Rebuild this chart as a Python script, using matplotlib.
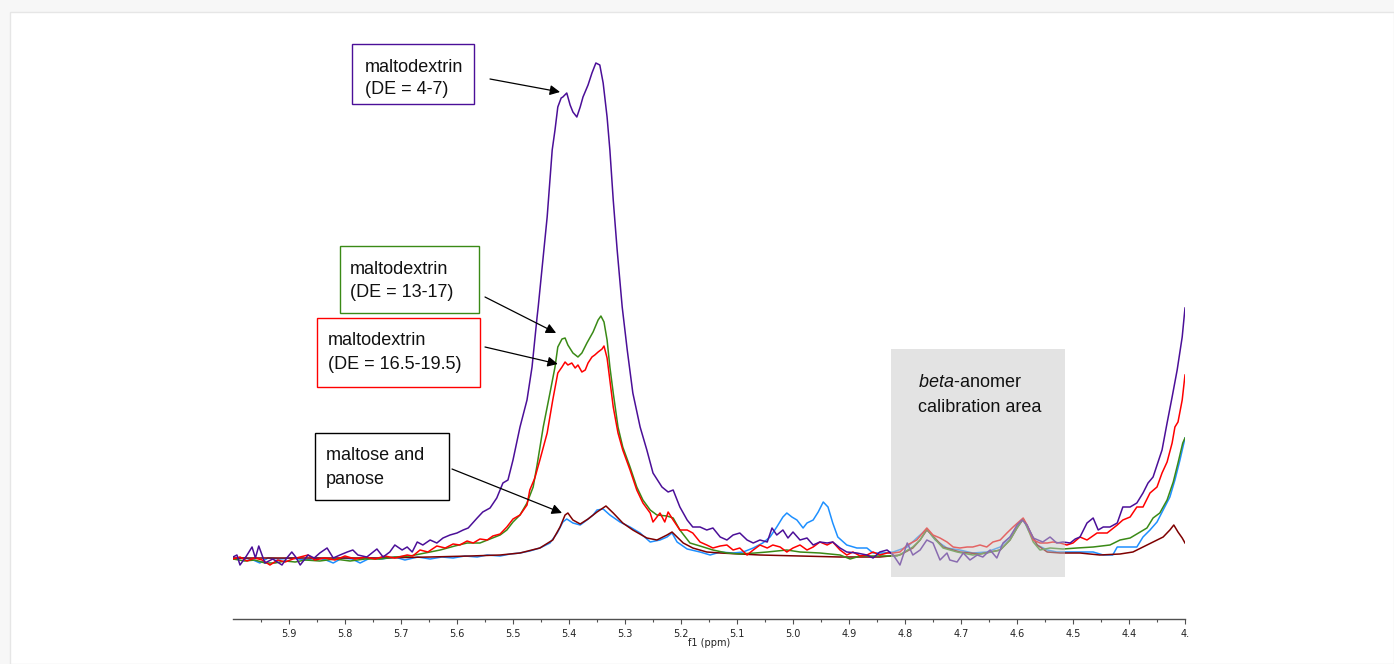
import matplotlib
matplotlib.use("Agg")
import matplotlib.pyplot as plt
from matplotlib.patches import Rectangle

# ---------------- data (ppm, intensity above baseline) ----------------
tick_values = [5.9, 5.8, 5.7, 5.6, 5.5, 5.4, 5.3, 5.2, 5.1, 5.0, 4.9, 4.8, 4.7, 4.6, 4.5, 4.4, 4.3]
tick_labels = ["5.9", "5.8", "5.7", "5.6", "5.5", "5.4", "5.3", "5.2", "5.1", "5.0",
               "4.9", "4.8", "4.7", "4.6", "4.5", "4.4", "4."]

purple_ppm = [6.000, 5.993, 5.9875, 5.976, 5.966, 5.960, 5.954, 5.943, 5.929, 5.9125, 5.904, 5.895,
              5.888, 5.880, 5.866, 5.855, 5.845, 5.832, 5.821, 5.809, 5.796, 5.786, 5.777, 5.761,
              5.743, 5.732, 5.720, 5.711, 5.698, 5.689, 5.680, 5.671, 5.661, 5.648, 5.636, 5.625,
              5.6125, 5.600, 5.589, 5.580, 5.564, 5.554, 5.541, 5.529, 5.518, 5.509, 5.500, 5.4875,
              5.475, 5.466, 5.457, 5.455, 5.439, 5.430, 5.425, 5.420, 5.414, 5.411, 5.404, 5.398,
              5.393, 5.386, 5.380, 5.375, 5.366, 5.359, 5.352, 5.345, 5.339, 5.332, 5.327, 5.321,
              5.314, 5.305, 5.296, 5.286, 5.273, 5.261, 5.250, 5.234, 5.223, 5.214, 5.202, 5.189,
              5.179, 5.166, 5.154, 5.143, 5.130, 5.118, 5.107, 5.095, 5.082, 5.071, 5.059, 5.046,
              5.0375, 5.029, 5.018, 5.009, 5.000, 4.9875, 4.975, 4.964, 4.952, 4.939, 4.929, 4.916,
              4.904, 4.886, 4.868, 4.857, 4.845, 4.832, 4.821, 4.809, 4.796, 4.786, 4.773, 4.761,
              4.750, 4.7375, 4.725, 4.720, 4.707, 4.696, 4.684, 4.671, 4.661, 4.648, 4.636, 4.625,
              4.6125, 4.600, 4.591, 4.582, 4.571, 4.554, 4.541, 4.529, 4.518, 4.505, 4.496, 4.4875,
              4.475, 4.464, 4.455, 4.446, 4.434, 4.421, 4.411, 4.398, 4.386, 4.375, 4.366, 4.357,
              4.348, 4.341, 4.332, 4.323, 4.314, 4.305, 4.300]
purple_int = [3, 5, -5, 4, 13, 2, 14, -3, 1, -5, 2, 8,
              3, -5, 5, 2, 7, 12, 2, 5, 8, 10, 5, 3,
              11, 3, 8, 15, 10, 13, 8, 18, 15, 20, 17, 22,
              25, 27, 30, 32, 42, 48, 52, 62, 77, 80, 100, 133,
              160, 193, 243, 253, 343, 410, 430, 453, 462, 463, 467, 455,
              448, 443, 453, 463, 475, 487, 497, 495, 477, 443, 410, 360,
              310, 253, 210, 167, 133, 110, 87, 73, 68, 70, 53, 40,
              33, 33, 30, 32, 23, 20, 25, 27, 20, 17, 20, 18,
              32, 25, 30, 22, 28, 20, 22, 15, 18, 17, 18, 12,
              8, 7, 5, 2, 8, 10, 5, -5, 17, 5, 10, 20,
              17, 0, 7, 0, -2, 7, 0, 5, 3, 10, 2, 17,
              23, 35, 40, 35, 22, 18, 23, 17, 18, 17, 21, 23,
              37, 42, 30, 33, 33, 37, 53, 53, 57, 67, 77, 83,
              98, 110, 137, 163, 190, 223, 252]

green_ppm = [6.000, 5.979, 5.961, 5.943, 5.925, 5.907, 5.889, 5.871, 5.845, 5.818, 5.791, 5.764,
             5.7375, 5.711, 5.684, 5.657, 5.630, 5.604, 5.582, 5.559, 5.541, 5.523, 5.511, 5.500,
             5.4875, 5.475, 5.464, 5.457, 5.446, 5.434, 5.425, 5.420, 5.4125, 5.407, 5.402, 5.393,
             5.384, 5.377, 5.368, 5.357, 5.348, 5.343, 5.3375, 5.332, 5.327, 5.321, 5.3125, 5.304,
             5.291, 5.279, 5.268, 5.255, 5.243, 5.225, 5.214, 5.202, 5.184, 5.166, 5.143, 5.118,
             5.095, 5.068, 5.046, 5.011, 4.9875, 4.952, 4.916, 4.898, 4.880, 4.857, 4.832, 4.814,
             4.804, 4.786, 4.773, 4.761, 4.750, 4.732, 4.707, 4.679, 4.654, 4.630, 4.6125, 4.600,
             4.589, 4.582, 4.571, 4.559, 4.541, 4.518, 4.493, 4.464, 4.434, 4.416, 4.398, 4.380,
             4.368, 4.357, 4.345, 4.332, 4.321, 4.3125, 4.304, 4.300]
green_int = [1, -1, 0, -3, -3, -1, -2, 0, -1, 1, -1, 1,
             1, 3, 4, 7, 10, 14, 17, 17, 21, 25, 30, 38,
             45, 57, 73, 95, 133, 167, 193, 213, 221, 222, 215, 207,
             203, 207, 217, 228, 240, 244, 238, 220, 193, 167, 133, 113,
             93, 73, 60, 50, 45, 44, 42, 30, 17, 14, 10, 7,
             6, 7, 8, 10, 8, 7, 5, 1, 4, 4, 4, 4,
             7, 13, 20, 31, 23, 12, 8, 5, 7, 10, 20, 32,
             41, 33, 18, 10, 12, 11, 12, 13, 15, 20, 22, 28,
             32, 42, 47, 60, 78, 97, 117, 122]

red_ppm = [6.000, 5.9875, 5.975, 5.961, 5.948, 5.934, 5.920, 5.907, 5.893, 5.880, 5.866, 5.854,
           5.836, 5.818, 5.800, 5.782, 5.764, 5.746, 5.729, 5.711, 5.689, 5.679, 5.666, 5.652,
           5.636, 5.621, 5.607, 5.595, 5.582, 5.571, 5.559, 5.546, 5.536, 5.523, 5.511, 5.500,
           5.4875, 5.475, 5.470, 5.461, 5.452, 5.439, 5.429, 5.420, 5.4125, 5.407, 5.402, 5.395,
           5.389, 5.384, 5.377, 5.371, 5.366, 5.359, 5.354, 5.348, 5.341, 5.3375, 5.332, 5.327,
           5.321, 5.3125, 5.304, 5.291, 5.279, 5.268, 5.255, 5.250, 5.2375, 5.229, 5.223, 5.214,
           5.202, 5.189, 5.179, 5.166, 5.154, 5.143, 5.130, 5.118, 5.107, 5.095, 5.082, 5.071,
           5.059, 5.046, 5.036, 5.023, 5.011, 5.000, 4.9875, 4.975, 4.964, 4.952, 4.939, 4.929,
           4.916, 4.904, 4.893, 4.880, 4.868, 4.857, 4.845, 4.832, 4.821, 4.809, 4.796, 4.779,
           4.761, 4.750, 4.7375, 4.725, 4.714, 4.702, 4.689, 4.679, 4.666, 4.654, 4.643, 4.630,
           4.618, 4.607, 4.589, 4.582, 4.571, 4.559, 4.546, 4.536, 4.523, 4.511, 4.500, 4.4875,
           4.475, 4.457, 4.439, 4.421, 4.411, 4.398, 4.386, 4.375, 4.3625, 4.350, 4.341, 4.332,
           4.323, 4.318, 4.3125, 4.305, 4.300]
red_int = [1, 3, -1, 2, 0, -5, 0, -2, 1, 3, 5, 0,
           2, 0, 4, 1, 3, 1, 4, 2, 5, 4, 10, 8,
           14, 12, 16, 15, 19, 17, 21, 20, 24, 26, 33, 41,
           45, 55, 70, 82, 100, 127, 160, 187, 193, 198, 195, 197,
           192, 195, 188, 190, 197, 203, 205, 208, 211, 214, 202, 180,
           153, 127, 110, 90, 70, 57, 47, 38, 47, 38, 48, 40,
           30, 30, 27, 18, 15, 12, 14, 15, 10, 12, 5, 10,
           15, 12, 15, 13, 8, 12, 15, 10, 13, 18, 15, 18,
           10, 5, 8, 4, 5, 8, 5, 7, 7, 8, 15, 20,
           32, 25, 22, 18, 13, 12, 13, 13, 15, 13, 18, 20,
           27, 33, 42, 35, 20, 17, 17, 18, 17, 15, 17, 23,
           20, 27, 27, 35, 40, 43, 53, 53, 67, 73, 87, 98,
           117, 133, 138, 160, 185]

blue_ppm = [6.000, 5.979, 5.964, 5.952, 5.9375, 5.916, 5.895, 5.871, 5.848, 5.834, 5.821, 5.805,
            5.7875, 5.773, 5.755, 5.734, 5.711, 5.693, 5.670, 5.648, 5.627, 5.607, 5.586, 5.564,
            5.546, 5.523, 5.505, 5.4875, 5.470, 5.452, 5.434, 5.421, 5.411, 5.404, 5.393, 5.380,
            5.368, 5.357, 5.350, 5.339, 5.327, 5.309, 5.291, 5.273, 5.255, 5.2375, 5.225, 5.216,
            5.207, 5.189, 5.166, 5.148, 5.130, 5.107, 5.089, 5.071, 5.054, 5.041, 5.029, 5.018,
            5.011, 5.002, 4.993, 4.982, 4.975, 4.964, 4.955, 4.946, 4.9375, 4.929, 4.920, 4.904,
            4.886, 4.868, 4.857, 4.839, 4.821, 4.796, 4.779, 4.761, 4.746, 4.725, 4.702, 4.679,
            4.654, 4.630, 4.6125, 4.600, 4.589, 4.580, 4.564, 4.546, 4.529, 4.511, 4.493, 4.464,
            4.446, 4.429, 4.421, 4.404, 4.386, 4.375, 4.3625, 4.350, 4.339, 4.327, 4.318, 4.309,
            4.300]
blue_int = [1, 2, 0, -3, 2, 1, 2, 0, 2, 0, -3, 2,
            1, -3, 2, 1, 3, 0, 3, 1, 3, 2, 4, 3,
            5, 4, 6, 7, 9, 12, 17, 27, 38, 41, 37, 35,
            40, 45, 50, 51, 45, 38, 33, 27, 18, 20, 23, 27,
            18, 11, 8, 5, 8, 7, 8, 12, 17, 23, 33, 43,
            47, 43, 40, 32, 37, 40, 48, 58, 53, 37, 23, 15,
            12, 12, 7, 7, 8, 13, 22, 31, 20, 12, 10, 7,
            8, 13, 23, 33, 41, 30, 15, 10, 8, 8, 8, 8,
            5, 5, 13, 13, 13, 23, 30, 38, 50, 63, 80, 100,
            122]

maroon_ppm = [6.000, 5.916, 5.827, 5.7375, 5.648, 5.577, 5.523, 5.4875, 5.452, 5.429, 5.416, 5.407,
              5.402, 5.393, 5.380, 5.366, 5.350, 5.334, 5.321, 5.304, 5.286, 5.261, 5.243, 5.225,
              5.216, 5.207, 5.196, 5.179, 5.154, 5.130, 5.059, 4.9875, 4.916, 4.845, 4.809, 4.786,
              4.773, 4.761, 4.750, 4.732, 4.702, 4.666, 4.630, 4.6125, 4.600, 4.589, 4.580, 4.564,
              4.546, 4.523, 4.4875, 4.452, 4.416, 4.393, 4.375, 4.357, 4.339, 4.327, 4.320, 4.3125,
              4.305, 4.300]
maroon_int = [2, 2, 2, 2, 3, 4, 5, 7, 12, 20, 33, 45,
              47, 40, 36, 41, 48, 54, 47, 37, 30, 22, 20, 25,
              28, 23, 17, 12, 8, 7, 5, 4, 3, 3, 5, 12,
              20, 30, 24, 13, 8, 6, 10, 20, 32, 41, 32, 15,
              8, 7, 7, 5, 6, 8, 13, 18, 23, 30, 35, 28,
              22, 17]

# ---------------- figure ----------------
W, H = 1394, 664
fig = plt.figure(figsize=(W / 100, H / 100), dpi=100)
fig.patch.set_facecolor("#f7f7f7")


def fx(px):
    return px / W


def fy(py):
    return 1 - py / H


# white card
fig.add_artist(Rectangle((fx(10), 0), 1 - fx(10), fy(12), transform=fig.transFigure,
                         facecolor="white", edgecolor="#e6e6e6", lw=1.0, zorder=0))

ax = fig.add_axes([fx(233), fy(619), fx(1185) - fx(233), fy(20) - fy(619)])
ax.set_facecolor("none")
ax.set_xlim(6.0, 4.3)
ax.set_ylim(-59, 540)

lw = 1.1
ax.plot(blue_ppm, blue_int, color="#1e90ff", lw=lw, zorder=2)
ax.plot(maroon_ppm, maroon_int, color="#7f0000", lw=lw, zorder=2.1)
ax.plot(green_ppm, green_int, color="#3a8a16", lw=lw, zorder=2.2)
ax.plot(red_ppm, red_int, color="#ff0000", lw=lw, zorder=2.3)
ax.plot(purple_ppm, purple_int, color="#4b0f98", lw=lw, zorder=2.4)

# calibration area (semi-transparent overlay)
ax.add_patch(Rectangle((4.514, -17), 4.825 - 4.514, 228, facecolor="#c8c8c8",
                       alpha=0.5, edgecolor="none", zorder=5))

# axes styling
for s in ["top", "left", "right"]:
    ax.spines[s].set_visible(False)
ax.spines["bottom"].set_color("#505050")
ax.spines["bottom"].set_linewidth(1.0)
ax.set_yticks([])
ax.set_xticks(tick_values)
ax.set_xticklabels(tick_labels, fontsize=7, family="DejaVu Sans", color="#222222")
ax.set_xticks([5.95, 5.85, 5.75, 5.65, 5.55, 5.45, 5.35, 5.25, 5.15, 5.05, 4.95, 4.85,
               4.75, 4.65, 4.55, 4.45, 4.35], minor=True)
ax.tick_params(axis="x", which="major", length=3.5, width=0.8, color="#505050", pad=4)
ax.tick_params(axis="x", which="minor", length=2.5, width=0.8, color="#505050")
ax.set_xlabel("f1 (ppm)", fontsize=7, family="DejaVu Sans", labelpad=-1, color="#222222")

# annotation boxes
TF = dict(family="Liberation Sans", fontsize=13, color="#111111", va="center", ha="left")


def box(x0, y0, x1, y1, ec):
    fig.add_artist(Rectangle((fx(x0), fy(y1)), fx(x1) - fx(x0), fy(y0) - fy(y1),
                             transform=fig.transFigure, facecolor="white",
                             edgecolor=ec, lw=1.0, zorder=6))


def label(x, y, s):
    fig.text(fx(x), fy(y), s, zorder=7, **TF)


def arrow(tip_ppm, tip_int, sx, sy):
    ax.annotate("", xy=(tip_ppm, tip_int), xycoords="data",
                xytext=(fx(sx), fy(sy)), textcoords="figure fraction",
                arrowprops=dict(arrowstyle="-|>", color="black", lw=0.9,
                                mutation_scale=15, shrinkA=0, shrinkB=0),
                zorder=8)


box(352, 44, 474, 104, "#4b0f98")
label(365, 67, "maltodextrin")
label(365, 90, "(DE = 4-7)")
arrow(5.416, 468, 490, 79)

box(340, 246, 479, 313, "#3a8a16")
label(350, 270, "maltodextrin")
label(350, 293, "(DE = 13-17)")
arrow(5.423, 227, 485, 297)

box(317, 318, 480, 387, "#ff0000")
label(328, 341, "maltodextrin")
label(328, 364, "(DE = 16.5-19.5)")
arrow(5.420, 196, 485, 347)

box(315, 433, 449, 500, "#000000")
label(326, 456, "maltose and")
label(326, 479, "panose")
arrow(5.4125, 47, 452, 469)

plt.rcParams["mathtext.fontset"] = "custom"
plt.rcParams["mathtext.it"] = "Liberation Sans:italic"
plt.rcParams["mathtext.rm"] = "Liberation Sans"
label(918, 383, r"$\mathit{beta}$-anomer")
label(918, 408, "calibration area")

fig.savefig("out.png", dpi=100, facecolor=fig.get_facecolor())
